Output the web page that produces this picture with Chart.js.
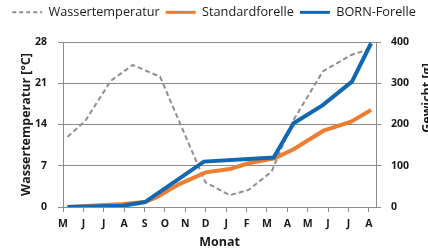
<!DOCTYPE html>
<html>
<head>
<meta charset="utf-8">
<script src="https://cdn.jsdelivr.net/npm/chart.js@4/dist/chart.umd.min.js"></script>
<style>
html,body{margin:0;padding:0;background:#fff;}
#wrap{width:428px;height:249px;position:relative;}
</style>
</head>
<body>
<div id="wrap"><canvas id="c" width="428" height="249"></canvas></div>
<script>
// Month tick labels (May .. August of following year)
const months = ['M','J','J','A','S','O','N','D','J','F','M','A','M','J','J','A'];

// Water temperature [°C] at fractional month positions
const tempX = [0.22, 1.09, 2.34, 3.42, 4.76, 6.98, 8.18, 9.10, 10.23, 11.26, 12.74, 14.13, 15.11];
const tempC = [11.9, 14.6, 21.4, 24.1, 22.1, 4.2, 2.0, 2.9, 6.0, 14.5, 23.0, 25.8, 26.9];

// Standard trout weight [g]
const stdX = [0.22, 2.95, 4.02, 4.60, 5.68, 7.00, 8.18, 9.10, 10.38, 11.31, 12.78, 14.13, 15.11];
const stdG = [0, 7, 12, 24, 55, 84, 92, 106, 118, 140, 185, 207, 235];

// BORN trout weight [g]
const bornX = [0.22, 2.95, 4.02, 6.91, 10.33, 11.31, 12.74, 14.17, 15.11];
const bornG = [0, 3, 12, 110, 120, 203, 247, 304, 397];

// Axis ticks
const tempTicks = [0, 7, 14, 21, 28];
const weightTicks = [0, 100, 200, 300, 400];

const pts = (xs, ys) => xs.map((x, i) => ({x: x, y: ys[i]}));

Chart.defaults.font.family = "'Open Sans', sans-serif";
Chart.defaults.color = '#1a1a1a';

const GRID = '#8c8c8c';

const fixLegend = {
  id: 'fixLegend',
  beforeLayout(chart) {
    const lg = chart.legend;
    if (lg && !lg._patched) {
      const orig = lg.fit.bind(lg);
      lg.fit = function () { orig(); this.height = 42; };
      lg._patched = true;
    }
  }
};

const rightTitle = {
  id: 'rightTitle',
  afterDraw(chart) {
    const ctx = chart.ctx;
    ctx.save();
    ctx.translate(427, 98);
    ctx.rotate(-Math.PI / 2);
    ctx.font = "bold 12.5px 'Open Sans', sans-serif";
    ctx.fillStyle = '#1a1a1a';
    ctx.textAlign = 'center';
    ctx.textBaseline = 'middle';
    ctx.fillText('Gewicht [g]', 0, 0);
    ctx.restore();
  }
};

new Chart(document.getElementById('c'), {
  type: 'line',
  data: {
    datasets: [
      {
        label: 'Wassertemperatur',
        data: pts(tempX, tempC),
        yAxisID: 'yT',
        borderColor: '#8f8f8f',
        backgroundColor: '#8f8f8f',
        borderWidth: 2,
        borderDash: [5, 3],
        pointRadius: 0,
        tension: 0,
        order: 2
      },
      {
        label: 'Standardforelle',
        data: pts(stdX, stdG),
        yAxisID: 'yW',
        borderColor: '#ED7D31',
        backgroundColor: '#ED7D31',
        borderWidth: 4,
        pointRadius: 0,
        tension: 0,
        order: 1
      },
      {
        label: 'BORN-Forelle',
        data: pts(bornX, bornG),
        yAxisID: 'yW',
        borderColor: '#1268B0',
        backgroundColor: '#1268B0',
        borderWidth: 4,
        pointRadius: 0,
        tension: 0,
        order: 0
      }
    ]
  },
  options: {
    responsive: false,
    animation: false,
    layout: {padding: 0},
    plugins: {
      tooltip: {enabled: false},
      legend: {
        position: 'top',
        labels: {
          usePointStyle: true,
          pointStyle: 'line',
          pointStyleWidth: 30,
          padding: 6,
          color: '#1a1a1a',
          font: {size: 12.7},
          sort: (a, b) => a.datasetIndex - b.datasetIndex,
          generateLabels(chart) {
            const items = Chart.defaults.plugins.legend.labels.generateLabels(chart);
            items.forEach(it => {
              it.lineWidth = it.datasetIndex === 0 ? 2 : 3;
              it.lineDash = it.datasetIndex === 0 ? [4, 3] : [];
            });
            return items;
          }
        }
      }
    },
    scales: {
      x: {
        type: 'linear',
        min: 0,
        max: 15.35,
        afterFit(s) { s.height = 42; },
        ticks: {
          stepSize: 1,
          includeBounds: false,
          autoSkip: false,
          maxRotation: 0,
          padding: 6,
          font: {size: 10.5, weight: 'bold'},
          callback: (v) => Number.isInteger(v) ? months[v] : ''
        },
        grid: {drawOnChartArea: false, drawTicks: true, tickLength: 5, color: GRID},
        border: {color: GRID},
        title: {display: true, text: 'Monat', font: {size: 12.5, weight: 'bold', lineHeight: 1}, padding: {top: 0, bottom: 0}}
      },
      yT: {
        type: 'linear',
        position: 'left',
        min: 0,
        max: 28,
        afterFit(s) { s.width = 63; },
        afterBuildTicks(s) { s.ticks = tempTicks.map(v => ({value: v})); },
        ticks: {padding: 11, font: {size: 10.5, weight: 'bold'}},
        grid: {color: GRID, tickLength: 5},
        border: {color: GRID},
        title: {display: true, text: 'Wassertemperatur [°C]', font: {size: 12.5, weight: 'bold', lineHeight: 1.2}, padding: {top: 19, bottom: 0}}
      },
      yW: {
        type: 'linear',
        position: 'right',
        min: 0,
        max: 400,
        afterFit(s) { s.width = 52; },
        afterBuildTicks(s) { s.ticks = weightTicks.map(v => ({value: v})); },
        ticks: {padding: 10, font: {size: 10.5, weight: 'bold'}},
        grid: {drawOnChartArea: false, color: GRID, tickLength: 5},
        border: {color: GRID}
      }
    }
  },
  plugins: [fixLegend, rightTitle]
});
</script>
</body>
</html>
